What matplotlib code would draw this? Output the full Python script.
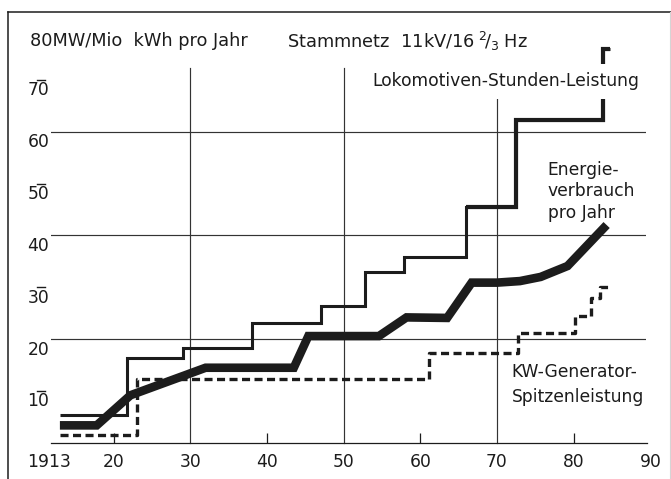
import matplotlib
matplotlib.use("Agg")
import matplotlib.pyplot as plt
from matplotlib.lines import Line2D
import matplotlib.transforms as mtransforms

plt.rcParams['font.family'] = ['DejaVu Sans']
plt.rcParams['lines.scale_dashes'] = False
plt.rcParams['mathtext.fontset'] = 'dejavusans'

# ---------------- data ----------------
loco_years = [1913, 1921.8, 1929.1, 1938.1, 1947.0, 1952.8, 1957.9, 1965.9, 1972.5, 1983.8, 1984.8]
loco_vals = [5.3, 16.4, 18.4, 23.1, 26.4, 32.9, 35.9, 45.5, 62.2, 76.0, 76.0]

energy_years = [1913, 1917.8, 1922.2, 1932.0, 1943.5, 1945.4, 1954.6, 1958.2, 1963.5, 1966.7,
                1970.0, 1973.0, 1975.7, 1979.2, 1984.3]
energy_vals = [3.4, 3.4, 9.2, 14.5, 14.5, 20.6, 20.6, 24.2, 24.1, 30.9,
               30.9, 31.2, 32.0, 34.1, 42.0]

gen_years = [1913, 1923.1, 1961.2, 1972.8, 1980.2, 1982.2, 1983.5, 1984.5]
gen_vals = [1.5, 12.3, 17.3, 21.1, 24.5, 28.0, 30.0, 30.0]

x_tick_years = [1913, 1920, 1930, 1940, 1950, 1960, 1970, 1980, 1990]
x_tick_labels = ["1913", "20", "30", "40", "50", "60", "70", "80", "90"]
x_small_ticks = [1920, 1940, 1960, 1980]
x_grid_years = [1930, 1950, 1970]

y_label_vals = [10, 20, 30, 40, 50, 60, 70]
y_labels = ["10", "20", "30", "40", "50", "60", "70"]
y_grid_vals = [20, 40, 60]
y_bar_vals = [10, 30, 50, 70]

title_left = "80MW/Mio  kWh pro Jahr"
title_right = r"Stammnetz  11kV/16$\;^{2}\!/_{3}\;$Hz"
label_loco = "Lokomotiven-Stunden-Leistung"
label_energy = ["Energie-", "verbrauch", "pro Jahr"]
label_gen = ["KW-Generator-", "Spitzenleistung"]

# ---------------- figure ----------------
W, H = 671, 479
ink = "#1c1c1c"
fs = 12.3

fig = plt.figure(figsize=(W / 100, H / 100), dpi=100)
fig.patch.set_facecolor("white")

ax_l, ax_r, ax_t, ax_b = 50.7, 646.5, 27.8, 443.0
ax = fig.add_axes([ax_l / W, 1 - ax_b / H, (ax_r - ax_l) / W, (ax_b - ax_t) / H])
ax.set_xlim(1911.8, 1989.5)
ax.set_ylim(0, 80)
ax.patch.set_alpha(0)
for s in ["top", "right", "left"]:
    ax.spines[s].set_visible(False)
ax.spines["bottom"].set_linewidth(0.9)
ax.spines["bottom"].set_color(ink)
ax.set_xticks(x_small_ticks)
ax.set_xticklabels([])
ax.tick_params(axis="x", direction="in", length=7.2, width=0.9, color=ink)
ax.set_yticks([])

# grid
for v in y_grid_vals:
    ax.axhline(v, color="#333333", lw=0.85, zorder=1)
for yr in x_grid_years:
    ax.plot([yr, yr], [0, 72.3], color="#333333", lw=0.85, zorder=1, clip_on=False)

# y labels + small bars
blend = mtransforms.blended_transform_factory(fig.transFigure, ax.transData)
for v, lab in zip(y_label_vals, y_labels):
    ax.text(38.5 / W, v - 2.0, lab, transform=blend, ha="center", va="center",
            fontsize=fs, color=ink)
for v in y_bar_vals:
    ax.plot([37 / W, 45 / W], [v, v], transform=blend, color=ink, lw=1.0, clip_on=False)

# x labels
for yr, lab in zip(x_tick_years, x_tick_labels):
    xpos = 1911.6 if lab == "1913" else yr
    ax.text(xpos, -3.7, lab, ha="center", va="center", fontsize=fs, color=ink, clip_on=False)

# series
ax.step(gen_years, gen_vals, where="post", color=ink, lw=2.4, dashes=(5.8, 3.2),
        dash_capstyle="butt", solid_joinstyle="miter", zorder=3, clip_on=False)
ax.step(loco_years, loco_vals, where="post", color=ink, lw=2.2,
        solid_joinstyle="miter", solid_capstyle="butt", zorder=3, clip_on=False)
ax.step(loco_years[7:], loco_vals[7:], where="post", color=ink, lw=3.0,
        solid_joinstyle="miter", solid_capstyle="butt", zorder=3, clip_on=False)
ax.plot(energy_years, energy_vals, color=ink, lw=6.2, solid_joinstyle="miter",
        solid_capstyle="butt", zorder=4, clip_on=False)

# texts
ax.text(1909.1, 77.4, title_left, ha="left", va="center", fontsize=12.8, color=ink)
ax.text(1942.6, 77.4, title_right, ha="left", va="center", fontsize=12.8, color=ink)
ax.text(1953.7, 69.7, label_loco, ha="left", va="center", fontsize=fs, color=ink, zorder=6,
        bbox=dict(facecolor="white", edgecolor="none", boxstyle="square,pad=0.5"))
for v, t in zip([52.6, 48.5, 44.3], label_energy):
    ax.text(1976.6, v, t, ha="left", va="center", fontsize=fs, color=ink)
for v, t in zip([13.7, 8.9], label_gen):
    ax.text(1971.9, v, t, ha="left", va="center", fontsize=fs, color=ink)

# outer frame of the scanned page
fig.add_artist(Line2D([8 / W, 1], [1 - 12 / H, 1 - 12 / H], transform=fig.transFigure,
                      color=ink, lw=1.1))
fig.add_artist(Line2D([8 / W, 8 / W], [0, 1 - 12 / H], transform=fig.transFigure,
                      color=ink, lw=1.1))
fig.add_artist(Line2D([669.5 / W, 669.5 / W], [0, 1 - 12 / H], transform=fig.transFigure,
                      color="#d5d5d5", lw=0.8))

fig.savefig("out.png", dpi=100)
